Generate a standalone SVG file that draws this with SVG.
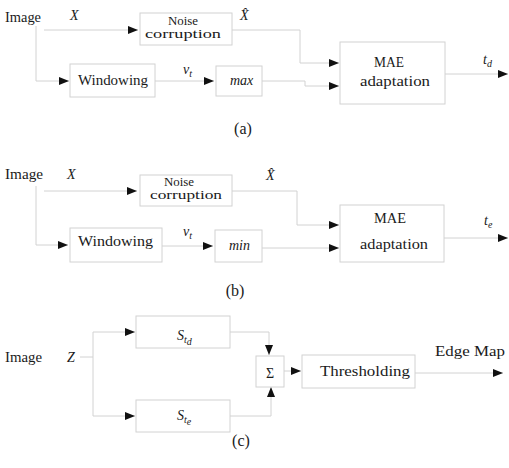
<svg xmlns="http://www.w3.org/2000/svg" width="509" height="468" viewBox="0 0 509 468">
<defs>
<marker id="ah" viewBox="0 0 10 8" refX="10" refY="4" markerWidth="10" markerHeight="8" markerUnits="userSpaceOnUse" orient="auto">
<path d="M0,0 L10,4 L0,8 Z" fill="#111"/>
</marker>
</defs>
<style>
text{font-family:"Liberation Serif","Times New Roman",serif;fill:#1a1a1a;font-size:14px}
.box{fill:none;stroke:#d2d2d2;stroke-width:1}
.ln{fill:none;stroke:#d2d2d2;stroke-width:1}
.arr{fill:none;stroke:#d2d2d2;stroke-width:1;marker-end:url(#ah)}
.it{font-style:italic}
.sm{font-size:10px}
.cap{font-size:16px}
.c{text-anchor:middle}
.two{font-size:12.5px}
</style>
<rect width="509" height="468" fill="#fff"/>

<g id="connectors">
<!-- (a) -->
<path class="arr" d="M44,30 H138"/>
<path class="arr" d="M36,26 V81 H69"/>
<path class="arr" d="M155,81 H214"/>
<path class="arr" d="M232,30 H300 V63 H339"/>
<path class="arr" d="M262,81 H305 V86 H339"/>
<path class="arr" d="M445,74 H508"/>
<!-- (b) -->
<path class="arr" d="M44,191 H137"/>
<path class="arr" d="M36,186 V245 H68"/>
<path class="arr" d="M162,246 H213"/>
<path class="arr" d="M232,191 H297 V225 H339"/>
<path class="arr" d="M262,248 H339"/>
<path class="arr" d="M444,238 H508"/>
<!-- (c) -->
<path class="ln" d="M80,357 H93"/>
<path class="ln" d="M93,332 V416"/>
<path class="arr" d="M93,332 H135"/>
<path class="arr" d="M93,416 H135"/>
<path class="arr" d="M230,332 H269 V355"/>
<path class="arr" d="M230,416 H271 V387"/>
<path class="arr" d="M284,371 H301"/>
<path class="arr" d="M415,373 H503"/>
</g>

<!-- (a) -->
<g id="image-a">
<text x="5" y="22" textLength="36" lengthAdjust="spacingAndGlyphs">Image</text>
<text x="70" y="20" class="it">X</text>
</g>
<g id="noise-a">
<rect class="box" x="140" y="13" width="92" height="32"/>
<text x="183" y="25" class="c two" textLength="30" lengthAdjust="spacingAndGlyphs">Noise</text>
<text x="183" y="38" class="c two" textLength="76" lengthAdjust="spacingAndGlyphs">corruption</text>
</g>
<text x="240" y="20" class="it">X̂</text>
<g id="window-a">
<rect class="box" x="70" y="64" width="85" height="33"/>
<text x="78" y="85" textLength="70" lengthAdjust="spacingAndGlyphs">Windowing</text>
</g>
<text x="183" y="74" class="it">v<tspan class="sm" dy="3">t</tspan></text>
<g id="max-a">
<rect class="box" x="216" y="66" width="46" height="30"/>
<text x="230" y="85" class="it">max</text>
</g>
<g id="mae-a">
<rect class="box" x="340" y="42" width="105" height="62"/>
<text x="389" y="67" class="c" textLength="30" lengthAdjust="spacingAndGlyphs">MAE</text>
<text x="395" y="86" class="c" textLength="70" lengthAdjust="spacingAndGlyphs">adaptation</text>
</g>
<text x="483" y="64" class="it">t<tspan class="sm" dy="3">d</tspan></text>
<text x="243" y="134" class="c cap">(a)</text>

<!-- (b) -->
<g id="image-b">
<text x="5" y="179" textLength="38" lengthAdjust="spacingAndGlyphs">Image</text>
<text x="67" y="179" class="it">X</text>
</g>
<g id="noise-b">
<rect class="box" x="140" y="175" width="92" height="31"/>
<text x="179" y="186" class="c two" textLength="30" lengthAdjust="spacingAndGlyphs">Noise</text>
<text x="186" y="199" class="c two" textLength="72" lengthAdjust="spacingAndGlyphs">corruption</text>
</g>
<text x="266" y="180" class="it">X̂</text>
<g id="window-b">
<rect class="box" x="70" y="228" width="92" height="34"/>
<text x="78" y="246" textLength="75" lengthAdjust="spacingAndGlyphs">Windowing</text>
</g>
<text x="183" y="236" class="it">v<tspan class="sm" dy="3">t</tspan></text>
<g id="min-b">
<rect class="box" x="215" y="230" width="47" height="32"/>
<text x="229" y="250" class="it">min</text>
</g>
<g id="mae-b">
<rect class="box" x="340" y="205" width="104" height="57"/>
<text x="390" y="223" class="c" textLength="32" lengthAdjust="spacingAndGlyphs">MAE</text>
<text x="394" y="249" class="c" textLength="68" lengthAdjust="spacingAndGlyphs">adaptation</text>
</g>
<text x="484" y="225" class="it">t<tspan class="sm" dy="3">e</tspan></text>
<text x="235" y="296" class="c cap">(b)</text>

<!-- (c) -->
<g id="image-c">
<text x="5" y="362" textLength="37" lengthAdjust="spacingAndGlyphs">Image</text>
<text x="67" y="362" class="it">Z</text>
</g>
<g id="std">
<rect class="box" x="136" y="316" width="94" height="32"/>
<text x="177" y="340" class="it">S<tspan class="sm" dy="3">t</tspan><tspan class="sm" font-size="8" dy="2">d</tspan></text>
</g>
<g id="ste">
<rect class="box" x="136" y="400" width="94" height="32"/>
<text x="177" y="420" class="it">S<tspan class="sm" dy="3">t</tspan><tspan class="sm" font-size="8" dy="2">e</tspan></text>
</g>
<g id="sum">
<rect class="box" x="256" y="356" width="28" height="31"/>
<text x="270" y="378" class="c" font-size="18">Σ</text>
</g>
<g id="thresh">
<rect class="box" x="302" y="355" width="113" height="33"/>
<text x="320" y="376" textLength="90" lengthAdjust="spacingAndGlyphs">Thresholding</text>
</g>
<text x="435" y="356" textLength="70" lengthAdjust="spacingAndGlyphs">Edge Map</text>
<text x="241" y="446" class="c cap">(c)</text>
</svg>
